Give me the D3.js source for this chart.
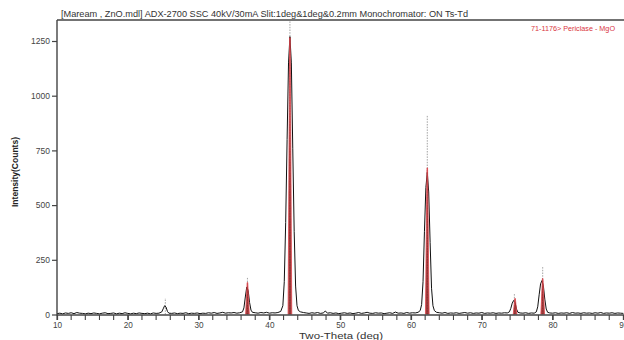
<!DOCTYPE html>
<html>
<head>
<meta charset="utf-8">
<script src="https://cdn.jsdelivr.net/npm/d3@7"></script>
<style>
  html, body { margin: 0; padding: 0; background: #fff; }
  svg { display: block; }
</style>
</head>
<body>
<div id="chart"></div>
<script>
// Observed XRD scan: [2-theta (deg), intensity (counts)]
const observed = [
  [10.0,4],[10.4,6],[10.8,3],[11.2,7],[11.6,5],[12.0,8],[12.4,4],[12.8,9],[13.2,6],[13.6,5],
  [14.0,3],[14.4,6],[14.8,4],[15.2,7],[15.6,5],[16.0,3],[16.4,6],[16.8,8],[17.2,4],[17.6,5],
  [18.0,7],[18.4,3],[18.8,6],[19.2,4],[19.6,8],[20.0,5],[20.4,3],[20.8,6],[21.2,4],[21.6,7],
  [22.0,5],[22.4,4],[22.8,6],[23.2,3],[23.6,7],[24.0,5],[24.4,6],[24.8,12],[25.0,26],[25.2,40],
  [25.4,34],[25.6,14],[25.8,6],[26.2,5],[26.6,7],[27.0,4],[27.4,6],[27.8,5],[28.2,8],[28.6,4],
  [29.0,6],[29.4,5],[29.8,7],[30.2,4],[30.6,6],[31.0,5],[31.4,8],[31.8,6],[32.2,9],[32.6,5],
  [33.0,7],[33.4,10],[33.8,6],[34.2,8],[34.6,7],[35.0,9],[35.4,6],[35.8,8],[36.2,12],[36.4,30],
  [36.6,80],[36.8,125],[37.0,110],[37.2,55],[37.4,20],[37.6,10],[38.0,8],[38.4,6],[38.8,9],[39.2,7],
  [39.6,10],[40.0,6],[40.4,8],[40.8,7],[41.2,9],[41.6,14],[41.9,40],[42.1,150],[42.3,420],[42.5,800],
  [42.7,1150],[42.9,1270],[43.1,1150],[43.3,760],[43.5,380],[43.7,130],[43.9,40],[44.1,18],[44.4,12],[44.8,9],
  [45.2,7],[45.6,5],[46.0,8],[46.4,6],[46.8,9],[47.2,5],[47.6,7],[47.9,16],[48.2,6],[48.6,8],
  [49.0,5],[49.4,7],[49.8,4],[50.2,6],[50.6,8],[51.0,5],[51.4,7],[51.8,4],[52.2,6],[52.6,9],
  [53.0,5],[53.4,7],[53.8,10],[54.2,6],[54.6,5],[55.0,8],[55.4,6],[55.8,7],[56.2,4],[56.6,6],
  [57.0,8],[57.4,5],[57.8,11],[58.2,6],[58.6,7],[59.0,5],[59.4,9],[59.8,6],[60.2,8],[60.6,7],
  [61.0,10],[61.3,18],[61.5,45],[61.7,150],[61.9,380],[62.1,580],[62.3,650],[62.5,560],[62.7,330],[62.9,120],
  [63.1,40],[63.3,18],[63.6,10],[64.0,8],[64.4,6],[64.8,9],[65.2,5],[65.6,7],[66.0,6],[66.4,8],
  [66.8,5],[67.2,7],[67.6,9],[68.0,6],[68.4,8],[68.8,5],[69.2,7],[69.6,6],[70.0,9],[70.4,5],
  [70.8,7],[71.2,6],[71.6,8],[72.0,5],[72.4,7],[72.8,6],[73.2,8],[73.6,7],[73.9,12],[74.1,28],
  [74.3,52],[74.5,64],[74.7,55],[74.9,25],[75.1,10],[75.4,7],[75.8,6],[76.2,8],[76.6,5],[77.0,7],
  [77.4,6],[77.7,12],[77.9,35],[78.1,90],[78.3,140],[78.5,155],[78.7,130],[78.9,70],[79.1,25],[79.3,10],
  [79.6,7],[80.0,6],[80.4,8],[80.8,5],[81.2,7],[81.6,6],[82.0,8],[82.4,5],[82.8,9],[83.2,6],
  [83.6,7],[84.0,5],[84.4,8],[84.8,6],[85.2,7],[85.6,5],[86.0,8],[86.4,6],[86.8,9],[87.2,5],
  [87.6,7],[88.0,6],[88.4,8],[88.8,5],[89.2,7],[89.6,6],[90.0,5]
];

// Reference pattern 71-1176 Periclase - MgO: positions and intensities
const refPositions = [36.9, 42.9, 62.3, 74.7, 78.6];
const refIntensities = [146, 1265, 670, 73, 164];

// Peak-ID markers: positions and top of each marker
const markerPositions = [25.3, 36.9, 42.9, 62.3, 74.6, 78.6];
const markerTops = [75, 170, 1345, 910, 96, 220];

const yTicks = [0, 250, 500, 750, 1000, 1250];
const xLabelTicks = [10, 20, 30, 40, 50, 60, 70, 80, 90];
const xMinorTicks = d3.range(10, 91, 2);

const titleText = "[Maream , ZnO.mdl] ADX-2700 SSC 40kV/30mA Slit:1deg&1deg&0.2mm Monochromator: ON Ts-Td";
const legendText = "71-1176> Periclase - MgO";

const W = 624, H = 340;
const margin = { left: 57, top: 20, right: 1, bottom: 25 };
const FONT = "'Liberation Sans', Arial, sans-serif";

const svg = d3.select("#chart").append("svg")
  .attr("width", W).attr("height", H)
  .style("font-family", FONT);

const x = d3.scaleLinear().domain([10, 90]).range([margin.left, 623.4]);
const y = d3.scaleLinear().domain([0, 1250]).range([314.5, 41]);
const yTop = y.invert(margin.top);

// Frame top line
svg.append("line")
  .attr("x1", margin.left).attr("x2", W)
  .attr("y1", y(yTop)).attr("y2", y(yTop))
  .attr("stroke", "#444").attr("stroke-width", 1.3);

// Title
svg.append("text")
  .attr("x", 61).attr("y", 16.5)
  .attr("font-size", 9.2).attr("fill", "#333")
  .attr("textLength", 407).attr("lengthAdjust", "spacingAndGlyphs")
  .text(titleText);

// Legend
svg.append("text")
  .attr("x", 531).attr("y", 31)
  .attr("font-size", 7.2).attr("fill", "#d9363e")
  .attr("textLength", 84).attr("lengthAdjust", "spacingAndGlyphs")
  .text(legendText);

// Peak-ID markers (dotted)
svg.append("g").selectAll("line")
  .data(markerPositions)
  .join("line")
  .attr("x1", d => x(d)).attr("x2", d => x(d))
  .attr("y1", y(0))
  .attr("y2", (d, i) => Math.max(y(markerTops[i]), 10))
  .attr("stroke", "#999").attr("stroke-width", 0.9)
  .attr("stroke-dasharray", "1.5,1.2");

// Observed profile
const line = d3.line().x(d => x(d[0])).y(d => y(d[1]));
svg.append("path")
  .datum(observed)
  .attr("d", line)
  .attr("fill", "none")
  .attr("stroke", "#111").attr("stroke-width", 1)
  .attr("stroke-linejoin", "round");

// Reference peaks (filled narrow profiles)
const halfWidth = 0.26;
svg.append("g").selectAll("path")
  .data(refPositions)
  .join("path")
  .attr("d", (d, i) => {
    const pts = [[d - halfWidth, 0], [d - 0.04, refIntensities[i]], [d + 0.04, refIntensities[i]], [d + halfWidth, 0]];
    return d3.line().x(p => x(p[0])).y(p => y(p[1]))(pts);
  })
  .attr("fill", "#8b1a1a").attr("fill-opacity", 0.85)
  .attr("stroke", "#e0484f").attr("stroke-width", 0.8);

// Y axis
const yAxis = d3.axisLeft(y).tickValues(yTicks).tickFormat(d3.format("d")).tickSize(5).tickPadding(2);
const gy = svg.append("g").attr("transform", `translate(${margin.left},0)`).call(yAxis);
gy.select(".domain").remove();
gy.selectAll("line").attr("stroke", "#444").attr("stroke-width", 1.2);
gy.selectAll("text").attr("font-size", 8.5).attr("fill", "#444").attr("font-family", FONT);
svg.append("line")
  .attr("x1", margin.left).attr("x2", margin.left)
  .attr("y1", margin.top).attr("y2", 315.5)
  .attr("stroke", "#444").attr("stroke-width", 1.4);

// X axis
const xAxis = d3.axisBottom(x).tickValues(xLabelTicks).tickFormat(d3.format("d")).tickSize(5).tickPadding(2);
const gx = svg.append("g").attr("transform", `translate(0,315)`).call(xAxis);
gx.select(".domain").remove();
gx.selectAll("line").attr("stroke", "#444").attr("stroke-width", 1.2);
gx.selectAll("text").attr("font-size", 8.2).attr("fill", "#444").attr("font-family", FONT);
svg.append("g").selectAll("line")
  .data(xMinorTicks)
  .join("line")
  .attr("x1", d => x(d)).attr("x2", d => x(d))
  .attr("y1", 315).attr("y2", 320)
  .attr("stroke", "#444").attr("stroke-width", 1.1);
svg.append("line")
  .attr("x1", margin.left).attr("x2", W)
  .attr("y1", 315).attr("y2", 315)
  .attr("stroke", "#444").attr("stroke-width", 1.3);

// Axis titles
svg.append("text")
  .attr("x", 341).attr("y", 339)
  .attr("text-anchor", "middle")
  .attr("font-size", 9.5).attr("fill", "#333")
  .attr("textLength", 84).attr("lengthAdjust", "spacingAndGlyphs")
  .text("Two-Theta (deg)");

svg.append("text")
  .attr("transform", "translate(18,172) rotate(-90)")
  .attr("text-anchor", "middle")
  .attr("font-size", 8.5).attr("font-weight", "bold").attr("fill", "#222")
  .attr("textLength", 70).attr("lengthAdjust", "spacingAndGlyphs")
  .text("Intensity(Counts)");
</script>
</body>
</html>
